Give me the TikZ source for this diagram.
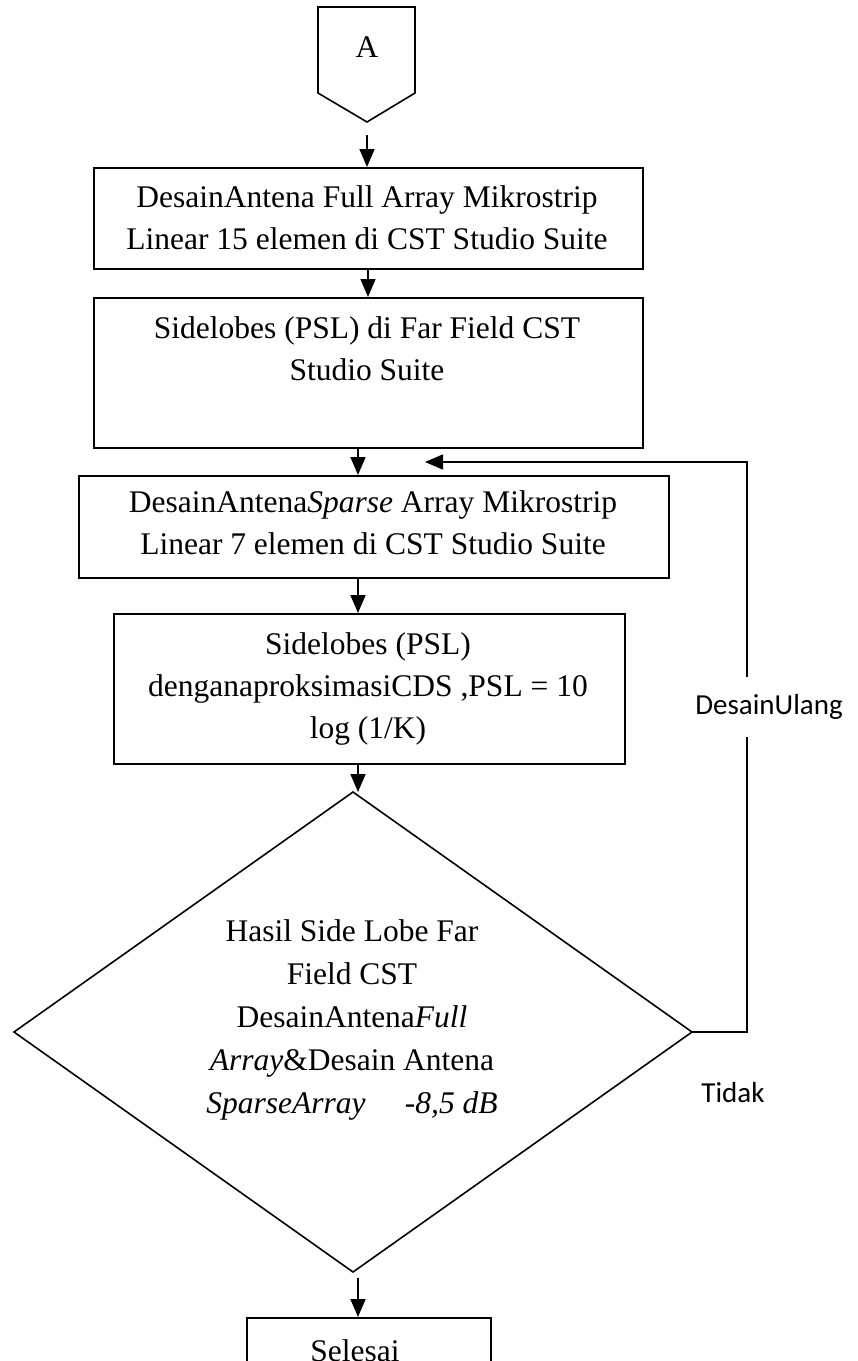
\documentclass[tikz,border=0pt]{standalone}
\usepackage{fontspec}
\setmainfont{Liberation Serif}
\newfontfamily\lblfont{Carlito}
\usetikzlibrary{arrows.meta}
\tikzset{
  flowbox/.style={draw, line width=1.6pt, rectangle, inner sep=0pt},
  flowtxt/.style={align=center, inner sep=0pt, font=\fontsize{31.5}{42}\selectfont},
  flowline/.style={line width=1.6pt},
  flowarrow/.style={line width=1.6pt, -{Triangle[length=18pt,width=15pt]}},
  sidelbl/.style={font=\lblfont\fontsize{29}{34}\selectfont, inner sep=0pt},
}
\begin{document}
\begin{tikzpicture}[x=1pt,y=-1pt]
\useasboundingbox (0,0) rectangle (858,1361);
% off-page connector A
\draw[flowline] (318,7) -- (415,7) -- (415,93) -- (367,122) -- (318,93) -- cycle;
\node[flowtxt] (A) at (367,47) {A};
\coordinate (Aout) at (367,135);
% boxes
\node[flowbox, minimum width=549pt, minimum height=101pt, anchor=north west] (b1) at (93,167) {};
\node[flowtxt] (t1) at (367,218) {DesainAntena Full Array Mikrostrip\\Linear 15 elemen di CST Studio Suite};
\node[flowbox, minimum width=549pt, minimum height=150pt, anchor=north west] (b2) at (93,297) {};
\node[flowtxt] (t2) at (367,349) {Sidelobes (PSL) di Far Field CST\\Studio Suite};
\node[flowbox, minimum width=590pt, minimum height=102pt, anchor=north west] (b3) at (78,475) {};
\node[flowtxt] (t3) at (373,523) {DesainAntena\textit{Sparse} Array Mikrostrip\\Linear 7 elemen di CST Studio Suite};
\node[flowbox, minimum width=511pt, minimum height=150pt, anchor=north west] (b4) at (113,613) {};
\node[flowtxt] (t4) at (368,689) {Sidelobes (PSL)\\denganaproksimasiCDS ,PSL = 10\\log (1/K)};
% decision
\coordinate (dT) at (353,792);
\coordinate (dR) at (692,1032);
\coordinate (dB) at (353,1272);
\coordinate (dL) at (14,1032);
\draw[flowline] (dT) -- (dR) -- (dB) -- (dL) -- cycle;
\node[flowtxt, font=\fontsize{31.5}{43}\selectfont] (t5) at (352,1020) {Hasil Side Lobe Far\\Field CST\\DesainAntena\textit{Full}\\\textit{Array}\&Desain Antena\\\textit{SparseArray\quad\ -8,5 dB}};
% end box
\node[flowbox, minimum width=244pt, minimum height=100pt, anchor=north west] (b6) at (246,1317) {};
\node[flowtxt, anchor=base] (t6) at (355,1361) {Selesai};
% arrows
\draw[flowarrow] (Aout) -- (b1.north -| Aout);
\draw[flowarrow] (b1.south -| 368,0) -- (b2.north -| 368,0);
\draw[flowarrow] (b2.south -| 358,0) -- (b3.north -| 358,0);
\draw[flowarrow] (b3.south -| 358,0) -- (b4.north -| 358,0);
\draw[flowarrow] (b4.south -| 358,0) -- (dT -| 358,0);
\coordinate (dOut) at (358,1278);
\draw[flowarrow] (dOut) -- (b6.north -| dOut);
% feedback loop
\node[sidelbl] (redo) at (769,707) {DesainUlang};
\node[sidelbl] (no) at (733,1093) {Tidak};
\coordinate (gapTop) at (747,677);
\coordinate (gapBot) at (747,737);
\coordinate (fbTop) at (747,462);
\coordinate (fbTip) at (425,462);
\draw[flowline] (dR) -- (dR -| gapBot) -- (gapBot);
\draw[flowarrow] (gapTop) -- (fbTop) -- (fbTip);
\end{tikzpicture}
\end{document}
